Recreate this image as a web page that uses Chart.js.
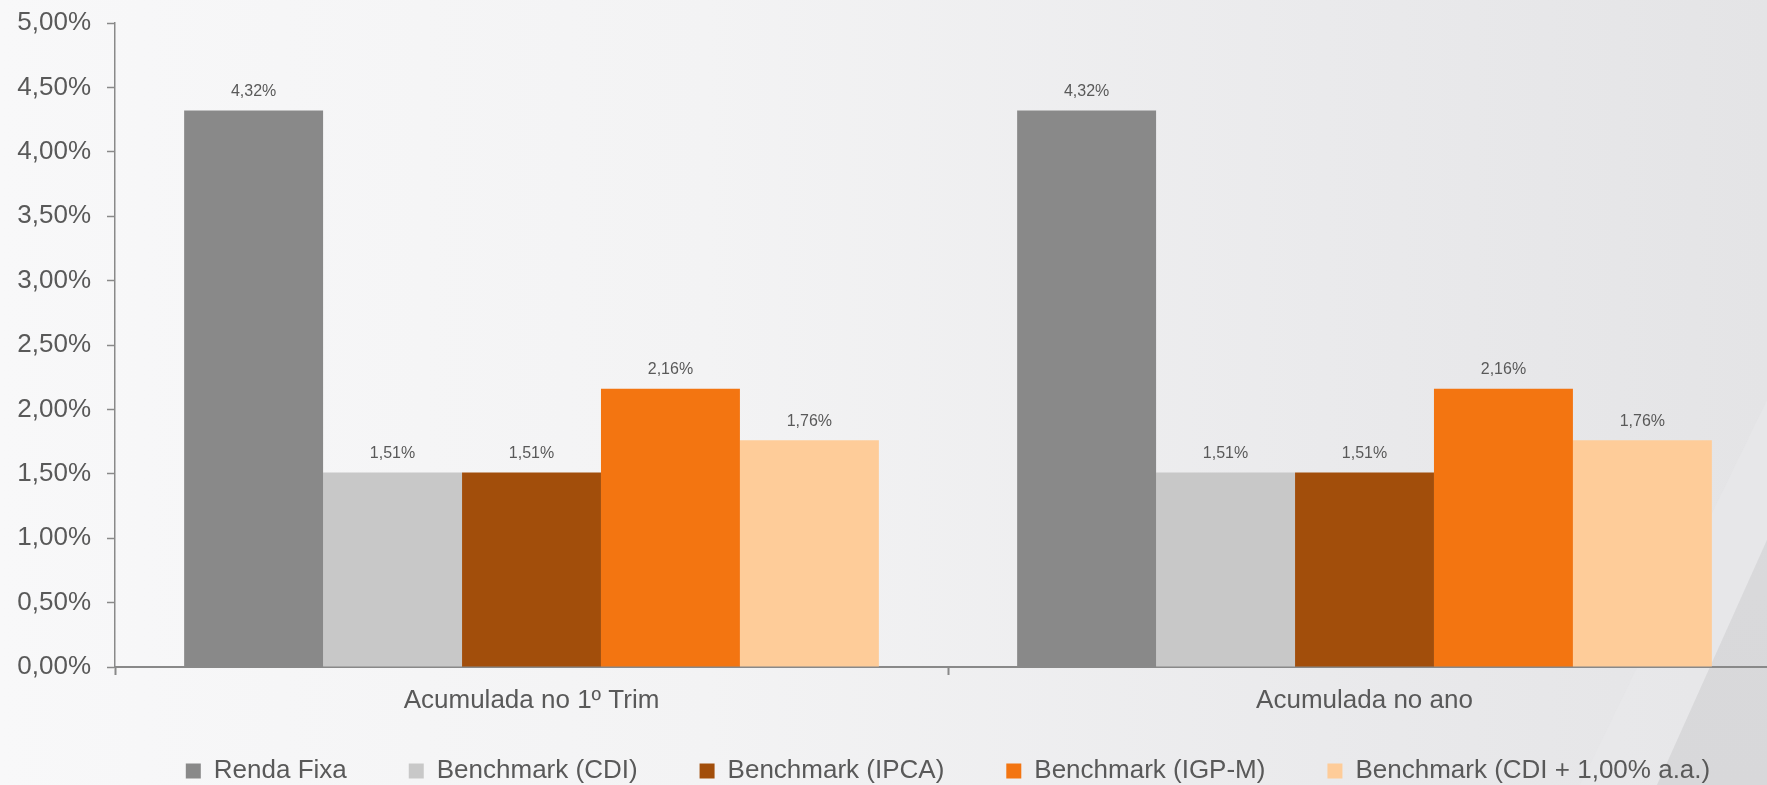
<!DOCTYPE html>
<html>
<head>
<meta charset="utf-8">
<script src="https://cdn.jsdelivr.net/npm/chart.js@4/dist/chart.umd.min.js"></script>
<style>
  html, body { margin: 0; padding: 0; overflow: hidden; }
  body {
    width: 1767px; height: 785px; position: relative;
    background: linear-gradient(to right, #f8f8f9 0%, #f3f3f4 40%, #eaeaec 75%, #e4e4e6 100%);
  }
  #band {
    position: absolute; left: 0; top: 0; width: 1767px; height: 785px;
    background: #e9e9eb;
    clip-path: polygon(1767px 400px, 1767px 540px, 1657px 785px, 1580px 785px);
    opacity: 0.5;
  }
  #tri {
    position: absolute; left: 0; top: 0; width: 1767px; height: 785px;
    background: linear-gradient(to bottom, #dcdcde 0%, #d8d8da 100%);
    clip-path: polygon(1767px 540px, 1767px 785px, 1657px 785px);
  }
  #wrap { position: absolute; left: 0; top: 0; width: 1781px; height: 785px; }
</style>
</head>
<body>
<div id="band"></div>
<div id="tri"></div>
<div id="wrap"><canvas id="c"></canvas></div>
<script>
const categories = ['Acumulada no 1º Trim', 'Acumulada no ano'];
const seriesNames = ['Renda Fixa', 'Benchmark (CDI)', 'Benchmark (IPCA)', 'Benchmark (IGP-M)', 'Benchmark (CDI + 1,00% a.a.)'];
const rendaFixa = [4.32, 4.32];
const benchCDI = [1.51, 1.51];
const benchIPCA = [1.51, 1.51];
const benchIGPM = [2.16, 2.16];
const benchCDI1 = [1.76, 1.76];
const yTicks = [0, 0.5, 1, 1.5, 2, 2.5, 3, 3.5, 4, 4.5, 5];
const seriesColors = ['#898989', '#c8c8c8', '#a24e0b', '#f37511', '#fecc99'];

const seriesValues = [rendaFixa, benchCDI, benchIPCA, benchIGPM, benchCDI1];
const fmt = v => v.toFixed(2).replace('.', ',') + '%';
const FONT = "'Liberation Sans', Arial, sans-serif";
const TXT = '#595959';
const AXIS = '#898989';

const dataLabels = {
  id: 'dataLabels',
  afterDatasetsDraw(chart) {
    const ctx = chart.ctx;
    ctx.save();
    ctx.font = '16px ' + FONT;
    ctx.fillStyle = TXT;
    ctx.textAlign = 'center';
    ctx.textBaseline = 'middle';
    chart.data.datasets.forEach((ds, i) => {
      chart.getDatasetMeta(i).data.forEach((el, j) => {
        ctx.fillText(fmt(ds.data[j]), el.x, el.y - 19);
      });
    });
    ctx.restore();
  }
};

// raise the legend row a little (it shares space with the x-axis labels)
const legendShift = {
  id: 'legendShift',
  afterLayout(chart) {
    const l = chart.legend;
    if (l) { l.top -= 22; l.height += 22; }
  }
};

new Chart(document.getElementById('c'), {
  type: 'bar',
  data: {
    labels: categories,
    datasets: seriesNames.map((n, i) => ({
      label: n,
      data: seriesValues[i],
      backgroundColor: seriesColors[i],
      borderWidth: 0,
      categoryPercentage: 0.834,
      barPercentage: 1.0
    }))
  },
  options: {
    responsive: true,
    maintainAspectRatio: false,
    animation: false,
    layout: { padding: { top: 23, left: 0, right: 0, bottom: 0 } },
    plugins: {
      tooltip: { enabled: false },
      legend: {
        position: 'bottom',
        fullSize: false,
        maxHeight: 67,
        labels: {
          boxWidth: 15,
          boxHeight: 15,
          padding: 62,
          color: TXT,
          font: { family: FONT, size: 26 }
        }
      }
    },
    scales: {
      x: {
        afterFit(scale) { scale.height = 51; },
        grid: { display: true, drawOnChartArea: false, drawTicks: true, tickLength: 8, tickColor: AXIS, tickWidth: 2, offset: true },
        border: { display: true, color: AXIS, width: 2 },
        ticks: { color: TXT, font: { family: FONT, size: 26 }, padding: 10, maxRotation: 0 }
      },
      y: {
        min: 0, max: 5,
        afterFit(scale) { scale.width = 115; scale.paddingTop = 0; scale.paddingBottom = 0; },
        afterBuildTicks(scale) { scale.ticks = yTicks.map(v => ({ value: v })); },
        grid: { display: true, drawOnChartArea: false, drawTicks: true, tickLength: 8, tickColor: AXIS, tickWidth: 1.5 },
        border: { display: true, color: AXIS, width: 1.5 },
        ticks: { color: TXT, font: { family: FONT, size: 26 }, padding: 16, callback: v => fmt(v) }
      }
    }
  },
  plugins: [dataLabels, legendShift]
});
</script>
</body>
</html>
